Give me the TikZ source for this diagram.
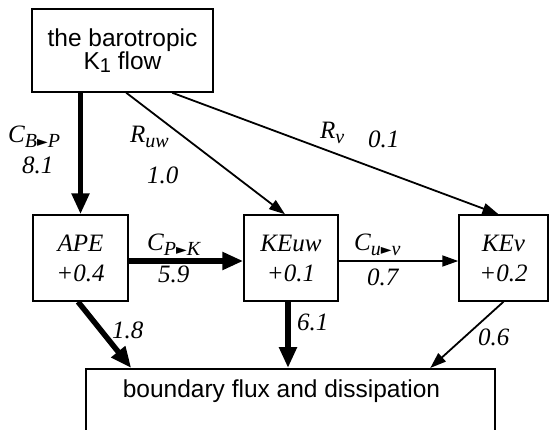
\documentclass[tikz,border=0pt]{standalone}
\usepackage{fontspec}
\setmainfont{Liberation Serif}
\newfontfamily\sansf{Liberation Sans}
\newfontfamily\symf{DejaVu Sans}
\usetikzlibrary{arrows.meta}
\newcommand\mytri{{\symf\fontsize{14}{14}\selectfont\raisebox{1pt}{►}}}
\newcommand\msub[1]{\raisebox{-5pt}{\fontsize{20}{20}\selectfont #1}}
\begin{document}
\begin{tikzpicture}[x=1pt,y=-1pt,
  box/.style={draw, line width=1.5pt, inner sep=0pt},
  sanstext/.style={font=\sansf\fontsize{24.5}{23}\selectfont},
  ittext/.style={font=\itshape\fontsize{25}{30}\selectfont, align=center},
  thickarr/.style={line width=5.5pt, -{Triangle[length=21pt,width=17pt]}},
  thinarr/.style={line width=1.8pt, -{Triangle[length=16pt,width=11pt]}},
  lbl/.style={anchor=base west, inner sep=0pt, font=\itshape\fontsize{25}{25}\selectfont}]
\useasboundingbox (0,0) rectangle (549,429);
% boxes
\node[box, sanstext, align=center, minimum width=181pt, minimum height=83pt] (top) at (122.5,50.5)
  {the barotropic\\K\raisebox{-3pt}{\fontsize{20}{20}\selectfont 1} flow};
\node[box, ittext, minimum width=95pt, minimum height=86pt] (ape) at (80.5,258) {APE\\+0.4};
\node[box, ittext, minimum width=94pt, minimum height=86pt] (keuw) at (291,258) {KEuw\\+0.1};
\node[box, ittext, minimum width=89pt, minimum height=86pt] (kev) at (503.5,258) {KEv\\+0.2};
\node[box, minimum width=409pt, minimum height=110pt, anchor=north] (bot) at (290.5,368) {};
\node[sanstext, anchor=base, inner sep=0pt] (bottxt) at (281.5,397) {boundary flux and dissipation};
% connectors
\draw[thickarr] (top.south -| ape.north) -- (ape.north);
\draw[thinarr] ([xshift=95pt]top.south west) -- ([xshift=-6pt]keuw.north);
\draw[thinarr] ([xshift=141pt]top.south west) -- ([xshift=-5pt]kev.north);
\draw[thickarr] ([yshift=-3pt]ape.east) -- ([yshift=-3pt]keuw.west);
\draw[thinarr] ([yshift=-3pt]keuw.east) -- ([yshift=-3pt]kev.west);
\draw[thickarr] ([xshift=-2.5pt]ape.south) -- ([xshift=46pt]bot.north west);
\draw[thickarr] ([xshift=-3pt]keuw.south) -- ([xshift=-3pt]keuw.south |- bot.north);
\draw[thinarr] (kev.south) -- ([xshift=345pt]bot.north west);
% labels
\node[lbl] (lcbp) at (8,142) {C\msub{B\mytri P}};
\node[lbl] (lcbpv) at (22,173) {8.1};
\node[lbl] (lruw) at (130,142) {R\msub{uw}};
\node[lbl] (lruwv) at (147,183) {1.0};
\node[lbl] (lrv) at (320,138) {R\msub{v}};
\node[lbl] (lrvv) at (368,147) {0.1};
\node[lbl] (lcpk) at (147,250) {C\msub{P\mytri K}};
\node[lbl] (lcpkv) at (158,282) {5.9};
\node[lbl] (lcuv) at (354,250) {C\msub{u\mytri v}};
\node[lbl] (lcuvv) at (367,285) {0.7};
\node[lbl] (l18) at (112,338) {1.8};
\node[lbl] (l61) at (297,330) {6.1};
\node[lbl] (l06) at (478,345) {0.6};
\end{tikzpicture}
\end{document}
